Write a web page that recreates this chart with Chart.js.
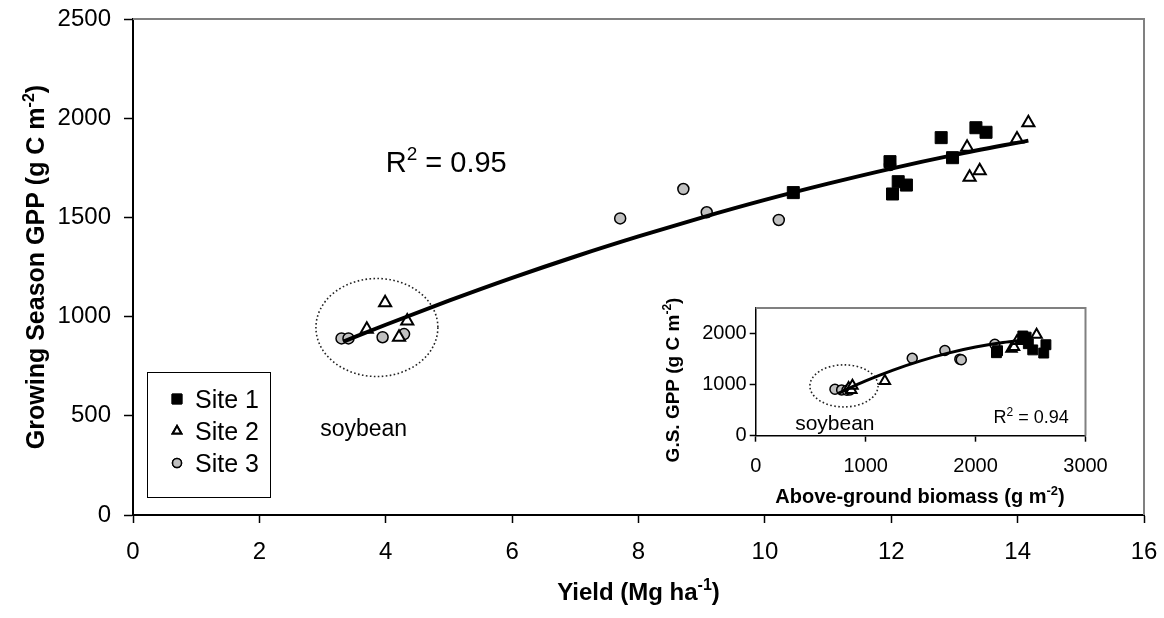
<!DOCTYPE html>
<html><head><meta charset="utf-8">
<script src="https://cdn.jsdelivr.net/npm/chart.js@4.4.0/dist/chart.umd.min.js"></script>
<style>
html,body{margin:0;padding:0;background:#fff;}
#wrap{position:relative;width:1164px;height:618px;overflow:hidden;}
#main{position:absolute;left:0;top:0;}
#inset{position:absolute;left:660px;top:280px;}
</style></head><body>
<div id="wrap"><canvas id="main" width="1164" height="618"></canvas><canvas id="inset" width="460" height="230"></canvas></div>
<script>
// ---- Main chart data (Yield, Mg/ha vs Growing Season GPP, g C m-2) ----
const site1Yield = [10.45, 11.98, 12.02, 12.11, 12.24, 12.79, 12.97, 13.34, 13.50];
const site1GPP   = [1625, 1781, 1618, 1680, 1663, 1902, 1801, 1952, 1929];
const site2Yield = [3.70, 3.99, 4.21, 4.34, 13.20, 13.24, 13.40, 13.99, 14.17];
const site2GPP   = [936, 1070, 896, 978, 1853, 1702, 1735, 1895, 1977];
const site3Yield = [3.30, 3.41, 3.95, 4.29, 7.71, 8.71, 9.08, 10.22, 11.98];
const site3GPP   = [890, 890, 896, 912, 1495, 1643, 1526, 1487, 1764];
const fitYield   = [3.33, 4, 5, 6, 7, 8, 9, 10, 11, 12, 13, 14.17];
const fitGPP     = [874, 959, 1080, 1195, 1303, 1404, 1499, 1588, 1670, 1746, 1815, 1887];
const xTicks = [0, 2, 4, 6, 8, 10, 12, 14, 16];
const yTicks = [0, 500, 1000, 1500, 2000, 2500];

// ---- Inset data (Above-ground biomass, g m-2 vs G.S. GPP) ----
const inSite1Bio = [2190, 2200, 2430, 2460, 2480, 2450, 2640, 2620, 2520];
const inSite1GPP = [1625, 1663, 1952, 1929, 1801, 1902, 1781, 1618, 1680];
const inSite2Bio = [845, 1175, 870, 880, 2327, 2350, 2378, 2420, 2555];
const inSite2GPP = [936, 1072, 896, 978, 1702, 1735, 1853, 1895, 1977];
const inSite3Bio = [721, 782, 830, 857, 1424, 1721, 1857, 1870, 2175];
const inSite3GPP = [910, 896, 890, 896, 1517, 1667, 1498, 1487, 1790];
const inFitBio   = [751, 1000, 1250, 1500, 1750, 2000, 2250, 2460];
const inFitGPP   = [831, 1073, 1285, 1466, 1616, 1735, 1823, 1873];
const inXTicks = [0, 1000, 2000, 3000];
const inYTicks = [0, 1000, 2000];

const FONT = "'Liberation Sans', Arial, sans-serif";
const pts = (xs, ys) => xs.map((x, i) => ({x: x, y: ys[i]}));

// draw text with superscript parts; parts: [[text, isSup], ...]
function richWidth(ctx, parts, size, bold) {
  let w = 0;
  for (const [t, sup] of parts) {
    ctx.font = (bold ? 'bold ' : '') + (sup ? Math.round(size * 0.65) : size) + 'px ' + FONT;
    w += ctx.measureText(t).width;
  }
  return w;
}
function drawRich(ctx, parts, x, y, size, bold, align) {
  const w = richWidth(ctx, parts, size, bold);
  let cx = align === 'center' ? x - w / 2 : (align === 'right' ? x - w : x);
  ctx.textAlign = 'left';
  ctx.textBaseline = 'alphabetic';
  for (const [t, sup] of parts) {
    const s = sup ? Math.round(size * 0.65) : size;
    ctx.font = (bold ? 'bold ' : '') + s + 'px ' + FONT;
    ctx.fillText(t, cx, sup ? y - size * 0.42 : y);
    cx += ctx.measureText(t).width;
  }
}

function ellipseAt(ctx, xs, ys, cx, cy, rx, ry) {
  const px = xs.getPixelForValue(cx), py = ys.getPixelForValue(cy);
  const prx = Math.abs(xs.getPixelForValue(cx + rx) - px);
  const pry = Math.abs(ys.getPixelForValue(cy + ry) - py);
  ctx.save();
  ctx.strokeStyle = '#222';
  ctx.lineWidth = 1.6;
  ctx.setLineDash([1.6, 2.4]);
  ctx.beginPath();
  ctx.ellipse(px, py, prx, pry, 0, 0, Math.PI * 2);
  ctx.stroke();
  ctx.restore();
}

function makeTicks(list) {
  return function(scale) { scale.ticks = list.map(v => ({value: v})); };
}

const mainDecor = {
  id: 'mainDecor',
  beforeDatasetsDraw(chart) {
    const {ctx, scales: {x, y}} = chart;
    ellipseAt(ctx, x, y, 3.86, 945, 0.965, 247);
  },
  afterDraw(chart) {
    const {ctx, chartArea: a, scales: {x, y}} = chart;
    ctx.save();
    ctx.strokeStyle = '#808080';
    ctx.lineWidth = 2;
    ctx.beginPath();
    ctx.moveTo(a.left, a.top); ctx.lineTo(a.right, a.top); ctx.lineTo(a.right, a.bottom);
    ctx.stroke();
    ctx.fillStyle = '#000';
    // R^2
    drawRich(ctx, [['R', false], ['2', true], [' = 0.95', false]], x.getPixelForValue(4.0), y.getPixelForValue(1730), 29, false, 'left');
    // soybean
    drawRich(ctx, [['soybean', false]], x.getPixelForValue(3.65), y.getPixelForValue(440) + 8, 23, false, 'center');
    // axis titles
    drawRich(ctx, [['Yield (Mg ha', false], ['-1', true], [')', false]], (a.left + a.right) / 2, 600, 24, true, 'center');
    ctx.save();
    ctx.translate(44, (a.top + a.bottom) / 2);
    ctx.rotate(-Math.PI / 2);
    drawRich(ctx, [['Growing Season GPP (g C m', false], ['-2', true], [')', false]], 0, 0, 25, true, 'center');
    ctx.restore();
    // legend
    const L = 147, T = 372, R = 270, B = 497;
    ctx.fillStyle = '#fff';
    ctx.fillRect(L, T, R - L, B - T);
    ctx.strokeStyle = '#000';
    ctx.lineWidth = 1;
    ctx.strokeRect(L + 0.5, T + 0.5, R - L, B - T);
    const rows = [399, 431, 463];
    const ds = chart.data.datasets.slice(1);
    ds.forEach((d, i) => {
      const cy = rows[i];
      const mx = 177;
      ctx.lineWidth = d.borderWidth;
      ctx.strokeStyle = d.borderColor;
      ctx.fillStyle = d.backgroundColor;
      Chart.helpers.drawPoint(ctx, {pointStyle: d.pointStyle, radius: d.legendRadius, borderWidth: d.borderWidth, rotation: 0}, mx, cy);
      ctx.fill();
      if (d.borderWidth) ctx.stroke();
      ctx.fillStyle = '#000';
      drawRich(ctx, [[d.label, false]], 195, cy + 9, 25, false, 'left');
    });
    ctx.restore();
  }
};

const axisCommon = (size, tickLen) => ({
  type: 'linear',
  grid: {display: true, drawOnChartArea: false, drawTicks: true, tickLength: tickLen, tickColor: '#000', tickWidth: 1.5},
  border: {display: true, color: '#000', width: 2},
  ticks: {color: '#000', font: {family: FONT, size: size}, maxRotation: 0, autoSkip: false, callback: v => String(v)}
});

const mainX = axisCommon(24, 8);
Object.assign(mainX, {min: 0, max: 16, afterBuildTicks: makeTicks(xTicks), afterFit: s => { s.height = 103; }});
mainX.ticks.padding = 4;
mainX.ticks.font.lineHeight = 2.08;
const mainY = axisCommon(24, 9);
Object.assign(mainY, {min: 0, max: 2500, afterBuildTicks: makeTicks(yTicks), afterFit: s => { s.width = 133; }});
mainY.ticks.padding = 13;
mainY.ticks.font.lineHeight = 0.4;

new Chart(document.getElementById('main'), {
  type: 'scatter',
  data: {datasets: [
    {label: 'fit', type: 'line', data: pts(fitYield, fitGPP), borderColor: '#000', borderWidth: 4, pointRadius: 0, cubicInterpolationMode: 'monotone', fill: false, order: 0},
    {label: 'Site 1', data: pts(site1Yield, site1GPP), pointStyle: 'rect', pointRadius: 8.5, legendRadius: 7, backgroundColor: '#000', borderColor: '#000', borderWidth: 1, order: 1},
    {label: 'Site 2', data: pts(site2Yield, site2GPP), pointStyle: 'triangle', pointRadius: 7, legendRadius: 5, backgroundColor: '#fff', borderColor: '#000', borderWidth: 2, order: 2},
    {label: 'Site 3', data: pts(site3Yield, site3GPP), pointStyle: 'circle', pointRadius: 5.5, legendRadius: 4.5, backgroundColor: '#c0c0c0', borderColor: '#000', borderWidth: 1.5, order: 3}
  ]},
  options: {
    responsive: false, animation: false,
    layout: {padding: {left: 0, right: 20, top: 19, bottom: 0}},
    plugins: {legend: {display: false}, tooltip: {enabled: false}},
    scales: {x: mainX, y: mainY}
  },
  plugins: [mainDecor]
});

// ---- Inset ----
const IN_LEFT = 660, IN_TOP = 280;
const insetDecor = {
  id: 'insetDecor',
  beforeDatasetsDraw(chart) {
    const {ctx, scales: {x, y}} = chart;
    ellipseAt(ctx, x, y, 803, 975, 310, 412);
  },
  afterDraw(chart) {
    const {ctx, chartArea: a, scales: {x, y}} = chart;
    ctx.save();
    ctx.strokeStyle = '#808080';
    ctx.lineWidth = 2;
    ctx.beginPath();
    ctx.moveTo(a.left, a.top); ctx.lineTo(a.right, a.top); ctx.lineTo(a.right, a.bottom);
    ctx.stroke();
    ctx.fillStyle = '#000';
    drawRich(ctx, [['soybean', false]], x.getPixelForValue(720), y.getPixelForValue(0) - 6, 21, false, 'center');
    drawRich(ctx, [['R', false], ['2', true], [' = 0.94', false]], x.getPixelForValue(2848), y.getPixelForValue(240), 18, false, 'right');
    drawRich(ctx, [['Above-ground biomass (g m', false], ['-2', true], [')', false]], 920 - IN_LEFT, 503 - IN_TOP, 20, true, 'center');
    ctx.save();
    ctx.translate(672 - IN_LEFT + 7, 380 - IN_TOP);
    ctx.rotate(-Math.PI / 2);
    drawRich(ctx, [['G.S. GPP (g C m', false], ['-2', true], [')', false]], 0, 0, 19, true, 'center');
    ctx.restore();
    ctx.restore();
  }
};

const inX = axisCommon(20, 6);
Object.assign(inX, {min: 0, max: 3000, afterBuildTicks: makeTicks(inXTicks), afterFit: s => { s.height = 230 - 155.7; }});
inX.ticks.padding = 4;
inX.ticks.font.lineHeight = 2.03;
inX.border.width = 1.5;
const inY = axisCommon(20, 6);
Object.assign(inY, {min: 0, max: 2500, afterBuildTicks: makeTicks(inYTicks), afterFit: s => { s.width = 95.7; }});
inY.ticks.padding = 3;
inY.ticks.font.lineHeight = 0.5;
inY.border.width = 1.5;

new Chart(document.getElementById('inset'), {
  type: 'scatter',
  data: {datasets: [
    {label: 'fit', type: 'line', data: pts(inFitBio, inFitGPP), borderColor: '#000', borderWidth: 3, pointRadius: 0, cubicInterpolationMode: 'monotone', fill: false, order: 0},
    {label: 'Site 1', data: pts(inSite1Bio, inSite1GPP), pointStyle: 'rect', pointRadius: 7, backgroundColor: '#000', borderColor: '#000', borderWidth: 1, order: 1},
    {label: 'Site 2', data: pts(inSite2Bio, inSite2GPP), pointStyle: 'triangle', pointRadius: 6, backgroundColor: '#fff', borderColor: '#000', borderWidth: 2, order: 2},
    {label: 'Site 3', data: pts(inSite3Bio, inSite3GPP), pointStyle: 'circle', pointRadius: 5, backgroundColor: '#c0c0c0', borderColor: '#000', borderWidth: 1.5, order: 3}
  ]},
  options: {
    responsive: false, animation: false,
    layout: {padding: {left: 0, right: 34.5, top: 28, bottom: 0}},
    plugins: {legend: {display: false}, tooltip: {enabled: false}},
    scales: {x: inX, y: inY}
  },
  plugins: [insetDecor]
});
</script>
</body></html>
